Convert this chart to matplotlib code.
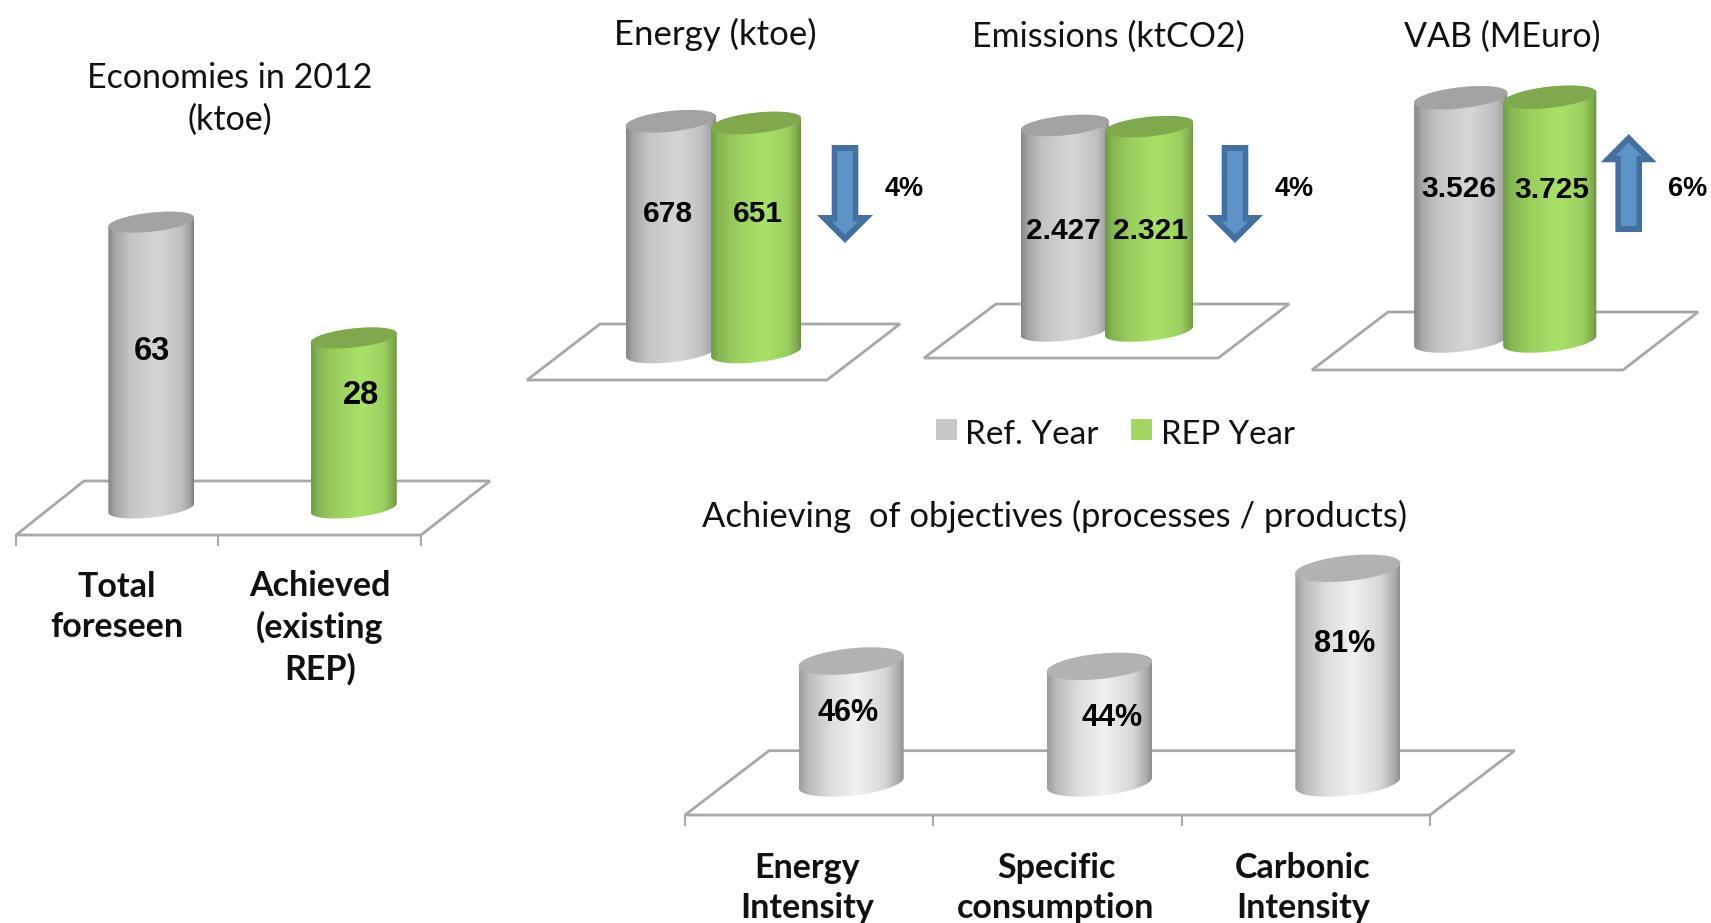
#!/usr/bin/env python3
import matplotlib
matplotlib.use("Agg")
import matplotlib.pyplot as plt
import numpy as np
from matplotlib.colors import LinearSegmentedColormap
from matplotlib.patches import Polygon, Rectangle

WIDTH, HEIGHT = 1711, 923

# values
ECONOMY_LABELS = ["Total\nforeseen", "Achieved\n(existing\nREP)"]
ECONOMY_VALUES = [63, 28]
ENERGY_VALUES = [678, 651]
EMISSIONS_VALUES = [2427, 2321]
VAB_VALUES = [3526, 3725]
ENERGY_CHANGE = "4%"
EMISSIONS_CHANGE = "4%"
VAB_CHANGE = "6%"
OBJECTIVE_LABELS = ["Energy\nIntensity", "Specific\nconsumption", "Carbonic\nIntensity"]
OBJECTIVE_VALUES = [46, 44, 81]
SERIES_NAMES = ["Ref. Year", "REP Year"]

TITLE_FONT = "Lato"
VALUE_FONT = "Liberation Sans"
FLOOR_COLOR = "#a8a8a8"

GREY_MAP = LinearSegmentedColormap.from_list("grey", [
    (0.0, "#858585"), (0.08, "#a5a5a5"), (0.25, "#c4c4c4"), (0.58, "#d6d6d6"),
    (0.85, "#c0c0c0"), (0.96, "#a0a0a0"), (1.0, "#7d7d7d")])
GREEN_MAP = LinearSegmentedColormap.from_list("green", [
    (0.0, "#6f9a45"), (0.08, "#86b553"), (0.25, "#98cb5c"), (0.58, "#aae268"),
    (0.85, "#9bd05f"), (0.96, "#80aa4c"), (1.0, "#6b9040")])
LIGHT_MAP = LinearSegmentedColormap.from_list("light", [
    (0.0, "#9c9c9c"), (0.1, "#bdbdbd"), (0.3, "#dddddd"), (0.55, "#f1f1f1"),
    (0.82, "#d6d6d6"), (0.95, "#ababab"), (1.0, "#8f8f8f")])


fig = plt.figure(figsize=(WIDTH / 100, HEIGHT / 100), dpi=100, facecolor="white")
canvas = fig.add_axes([0, 0, 1, 1], zorder=0)
canvas.set_xlim(0, WIDTH)
canvas.set_ylim(HEIGHT, 0)
canvas.axis("off")


def panel(x0, x1, y_base, y_top, xlim, ylim):
    ax = fig.add_axes(
        [x0 / WIDTH, 1 - y_base / HEIGHT, (x1 - x0) / WIDTH, (y_base - y_top) / HEIGHT],
        zorder=1,
    )
    ax.set_xlim(*xlim)
    ax.set_ylim(*ylim)
    ax.axis("off")
    ax.patch.set_alpha(0)
    return ax


def floor(front_left, front_right, front_y, back_left, back_right, back_y, ticks=None):
    pts = [(front_left, front_y), (front_right, front_y), (back_right, back_y), (back_left, back_y)]
    canvas.add_patch(Polygon(pts, closed=True, fill=False, edgecolor=FLOOR_COLOR, linewidth=2.0))
    if ticks is not None:
        for i in range(ticks + 1):
            x = front_left + (front_right - front_left) * i / ticks
            canvas.plot([x, x], [front_y, front_y + 10], color=FLOOR_COLOR, linewidth=1.5)


def cylinder(ax, x, value, half_width, cmap, top_color, b_px, s_px):
    low, high = ax.get_ylim()
    per_px = (high - low) / (ax.get_position().height * HEIGHT)
    b, s = b_px * per_px, s_px * per_px

    t = np.linspace(0, 2 * np.pi, 121)
    rim_x = x + half_width * np.cos(t)
    rim_y = b * np.sin(t) + s * np.cos(t)

    lower = t >= np.pi
    upper = t <= np.pi
    body = np.vstack([
        np.column_stack([rim_x[lower], low + rim_y[lower]]),
        np.column_stack([rim_x[upper], value + rim_y[upper]]),
    ])
    im = ax.imshow(
        np.linspace(0, 1, 256).reshape(1, -1),
        cmap=cmap, aspect="auto", interpolation="bilinear",
        extent=(x - half_width, x + half_width, low - 3 * b, value + 3 * b),
    )
    im.set_clip_path(Polygon(body, closed=True, transform=ax.transData))
    im.set_clip_box(fig.bbox)
    ax.add_patch(Polygon(np.column_stack([rim_x, value + rim_y]), closed=True,
                         facecolor=top_color, edgecolor="none", clip_on=False))
    ax.set_xlim(*ax.get_xlim())
    ax.set_ylim(low, high)


def value_text(ax, px, py, text, size=21.5):
    ax.text(px, py + 2, text, transform=canvas.transData, ha="center", va="center",
            fontsize=size, fontweight="bold", family=VALUE_FONT, color="black")


def title_text(px, py, text, size=24.5, weight="normal"):
    canvas.text(px, py + 2, text, ha="center", va="center", fontsize=size, fontweight=weight,
                family=TITLE_FONT, color="#111111", linespacing=1.33)


def arrow(cx, tip, head_base, tail, down=True):
    sign = 1 if down else -1
    half_shaft, half_head = 13.3, 28
    outer = [(cx - half_shaft, tail), (cx + half_shaft, tail), (cx + half_shaft, head_base),
             (cx + half_head, head_base), (cx, tip), (cx - half_head, head_base),
             (cx - half_shaft, head_base)]
    inner_shaft = half_shaft - 5.5
    inner = [(cx - inner_shaft, tail + 6 * sign), (cx + inner_shaft, tail + 6 * sign),
             (cx + inner_shaft, head_base + 6.5 * sign), (cx + half_shaft, head_base + 6.5 * sign),
             (cx, tip - 8.5 * sign), (cx - half_shaft, head_base + 6.5 * sign),
             (cx - inner_shaft, head_base + 6.5 * sign)]
    canvas.add_patch(Polygon(outer, closed=True, facecolor="#44709f", edgecolor="none"))
    canvas.add_patch(Polygon(inner, closed=True, facecolor="#5e93c8", edgecolor="none"))


def thousands(value):
    return f"{value:,}".replace(",", ".")


# left chart
floor(16, 421, 535, 84, 490, 481, ticks=2)
ax_eco = panel(50, 455, 508, 199, (-0.5, 1.5), (-23.4, 70))
cylinder(ax_eco, 0, ECONOMY_VALUES[0], 0.212, GREY_MAP, "#a3a3a3", 9.5, 4.5)
cylinder(ax_eco, 1, ECONOMY_VALUES[1], 0.212, GREEN_MAP, "#80a94e", 9.5, 4.5)
value_text(ax_eco, 151.5, 350, str(ECONOMY_VALUES[0]), 23.5)
value_text(ax_eco, 361, 394, str(ECONOMY_VALUES[1]), 23.5)
title_text(230, 76, "Economies in 2012")
title_text(230, 118, "(ktoe)")
title_text(117, 605, ECONOMY_LABELS[0], weight="bold")
title_text(320, 626, ECONOMY_LABELS[1], weight="bold")

# energy
floor(527, 827, 380, 600, 900, 324)
ax_energy = panel(563.5, 863.5, 352, 100, (-0.5, 0.5), (-2984, 1016))
cylinder(ax_energy, -0.142, ENERGY_VALUES[0], 0.15, GREY_MAP, "#a3a3a3", 10.3, 4.7)
cylinder(ax_energy, 0.142, ENERGY_VALUES[1], 0.15, GREEN_MAP, "#80a94e", 10.3, 4.7)
value_text(ax_energy, 668, 212, thousands(ENERGY_VALUES[0]))
value_text(ax_energy, 758, 212, thousands(ENERGY_VALUES[1]))
title_text(715, 32, "Energy (ktoe)", size=25)
arrow(845, 243, 215, 145, down=True)
value_text(ax_energy, 904, 187, ENERGY_CHANGE, 19.5)

# emissions
floor(924, 1218.3, 358, 996, 1289, 304)
ax_emis = panel(960, 1253.7, 331, 100, (-0.5, 0.5), (-15759, 4683))
cylinder(ax_emis, -0.1434, EMISSIONS_VALUES[0], 0.15, GREY_MAP, "#a3a3a3", 9.8, 4.5)
cylinder(ax_emis, 0.1434, EMISSIONS_VALUES[1], 0.15, GREEN_MAP, "#80a94e", 9.8, 4.5)
value_text(ax_emis, 1063, 229, thousands(EMISSIONS_VALUES[0]))
value_text(ax_emis, 1151, 229, thousands(EMISSIONS_VALUES[1]))
title_text(1108, 35, "Emissions (ktCO2)")
arrow(1235, 243, 215, 145, down=True)
value_text(ax_emis, 1294, 187, EMISSIONS_CHANGE, 19.5)

# VAB
floor(1312, 1623, 370, 1388, 1698, 312)
ax_vab = panel(1350, 1660.5, 341, 90, (-0.5, 0.5), (-93754, 6646))
cylinder(ax_vab, -0.1433, VAB_VALUES[0], 0.15, GREY_MAP, "#a3a3a3", 10.6, 5)
cylinder(ax_vab, 0.1433, VAB_VALUES[1], 0.15, GREEN_MAP, "#80a94e", 10.6, 5)
value_text(ax_vab, 1459, 187, thousands(VAB_VALUES[0]))
value_text(ax_vab, 1552, 188, thousands(VAB_VALUES[1]))
title_text(1502, 35, "VAB (MEuro)")
arrow(1628.7, 134, 162.3, 232, down=False)
value_text(ax_vab, 1688, 187, VAB_CHANGE, 19.5)

# legend
canvas.add_patch(Rectangle((936, 419), 21, 21, facecolor="#c8c8c8", edgecolor="none"))
canvas.add_patch(Rectangle((1131, 419), 21, 21, facecolor="#a3d65f", edgecolor="none"))
canvas.text(965, 435, SERIES_NAMES[0], ha="left", va="center", fontsize=24,
            family=TITLE_FONT, color="#111111")
canvas.text(1161, 435, SERIES_NAMES[1], ha="left", va="center", fontsize=23.7,
            family=TITLE_FONT, color="#111111")

# objectives
title_text(1055, 514, "Achieving  of objectives (processes / products)", size=24.8)
floor(685, 1430, 815, 769, 1514.6, 750.7, ticks=3)
ax_obj = panel(727, 1472, 783, 518, (-0.5, 2.5), (0, 100))
for i, val in enumerate(OBJECTIVE_VALUES):
    cylinder(ax_obj, i, val, 0.2114, LIGHT_MAP, "#b2b2b2", 12.7, 5.2)
value_text(ax_obj, 848, 711, f"{OBJECTIVE_VALUES[0]}%", 22)
value_text(ax_obj, 1112, 716, f"{OBJECTIVE_VALUES[1]}%", 22)
value_text(ax_obj, 1345, 642, f"{OBJECTIVE_VALUES[2]}%", 22)
for px, label in zip([807, 1056, 1303], OBJECTIVE_LABELS):
    title_text(px, 886, label, weight="bold")

fig.savefig("out.png", dpi=100, facecolor="white")
